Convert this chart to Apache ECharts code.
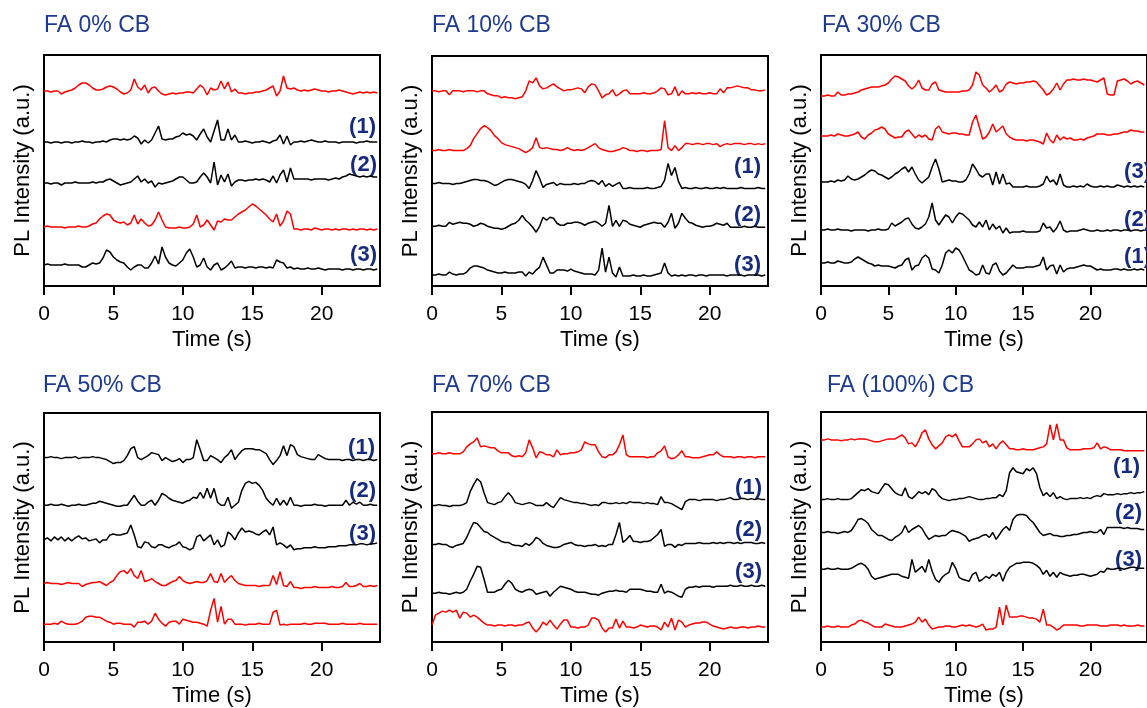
<!DOCTYPE html>
<html>
<head>
<meta charset="utf-8">
<title>PL intensity traces</title>
<script src="https://cdn.jsdelivr.net/npm/echarts@6/dist/echarts.min.js"></script>
<style>
html, body { margin: 0; padding: 0; background: #fff; }
#chart { width: 1147px; height: 708px; }
</style>
</head>
<body>
<div id="chart"></div>
<script>
var timeStep = 0.25;              // s between samples, first sample at t = 0
var xTickValues = [0, 5, 10, 15, 20];

// ---- FA 0% CB (values in a.u., relative to each trace's own baseline)
var fa0_red_a = [0,0,-1,0, 0,-3,-1,0, 1,3,6,8, 8,6,3,1, 1,2,4,5, 4,2,-1,-3, -2,1,12,4, 1,6,-2,3,
  4,0,-3,-4, -3,-2,-3,-2, -2,-1,-1,-2, 2,6,3,-4, 3,1,2,10, 2,9,-1,2, -2,-2,-3,-2, -2,-1,-1,0,
  1,3,5,-5, 0,15,3,2, 3,1,0,1, 0,1,2,1, 0,0,-1,0, 0,1,0,-1, -2,-3,-2,-1, -2,-1,-2,-1, -2];
var fa0_k1 = [0,0,-1,0, 0,-1,0,0, -1,0,0,1, 0,0,-1,0, 0,1,0,2, 3,3,2,3, 2,3,6,4, -2,2,-1,2,
  9,16,3,2, 3,3,5,6, 9,7,8,6, 2,8,13,5, 0,11,22,2, 2,13,2,7, 0,0,1,0, -1,0,0,1,
  0,-1,1,2, 7,-2,6,-3, 0,0,1,0, 1,2,1,0, 0,1,0,0, 0,-1,0,0, 0,0,-1,0, 0,1,0,0, 0];
var fa0_k2 = [0,0,-1,0, 0,-2,0,0, 0,1,0,0, 0,0,1,0, 1,1,3,4, 2,0,-2,-1, 0,1,4,7, 1,4,0,2,
  -4,0,-1,0, 1,2,4,6, 6,3,0,0, 1,6,10,6, 0,21,-2,8, 1,9,-3,1, 3,3,2,3, 3,4,3,4,
  3,1,7,0, 8,13,1,15, 4,4,4,4, 4,3,4,4, 4,4,3,4, 5,4,6,7, 9,8,7,6, 7,6,7,6, 6];
var fa0_red_b = [0,1,0,0, 0,0,-1,0, 0,0,1,0, 0,1,3,4, 8,11,13,12, 7,5,4,5, 2,4,12,3, 8,4,1,2,
  7,15,7,0, -1,-1,-1,0, -1,-1,0,3, 12,0,2,7, 2,-3,6,5, 8,7,7,10, 13,15,17,20, 23,21,18,15,
  12,8,5,13, 1,6,16,13, -2,-2,-3,-2, -2,-3,-1,-2, -3,-2,-2,-3, -2,-3,-2,-2, -3,-2,-3,-2, -2,-3,-2,-3, -2];
var fa0_k3 = [0,1,0,0, 0,0,1,0, 0,0,0,-2, -2,0,2,1, 2,7,15,13, 8,5,3,2, -2,-5,-2,0, 0,-3,-3,2,
  9,1,18,8, 2,0,-1,2, 5,12,16,8, -2,0,7,-2, -5,0,2,-5, -3,0,4,-3, -2,-2,-3,-2, -2,-3,-2,-2,
  -3,-2,-3,5, 3,2,-3,-2, -4,-3,-4,-4, -3,-4,-4,-3, -4,-5,-4,-4, -4,-4,-5,-4, -4,-5,-4,-4, -5,-4,-4,-5, -4];
var fa0_offsets = [195, 144, 103, 59, 21];

// ---- FA 10% CB
var fa10_red_a = [0,0,-1,0, 0,-4,0,0, 0,-1,0,0, 0,-1,0,0, -3,-4,-5,-5, -7,-6,-7,-7, -8,-7,-6,0, 10,8,13,5,
  2,3,5,7, 4,2,0,1, 1,2,3,2, -2,4,7,6, 0,-7,-4,-3, 1,-5,-3,0, 1,-3,-3,-3, -3,-2,-3,-3,
  -2,0,3,2, -4,-3,4,-5, 0,-3,-3,-2, -3,-2,-3,-3, -2,-3,-3,2, -2,3,3,4, 5,4,3,3, 1,1,0,0, 1];
var fa10_red_b = [0,0,1,0, 0,1,0,0, 0,0,2,5, 12,17,22,25, 23,20,15,12, 8,6,5,4, 3,2,0,-2, 0,3,13,3,
  2,3,2,1, 1,0,1,3, 1,0,1,0, 1,3,5,7, 3,1,0,-1, -1,0,1,3, 2,0,0,-1, 0,0,-1,0,
  0,0,1,30, 3,0,5,0, 3,7,7,6, 7,7,6,7, 7,6,7,4, 6,7,6,7, 7,7,6,7, 7,6,7,6, 7];
var fa10_k1 = [0,0,1,0, 0,0,-1,0, 0,1,2,3, 4,4,3,3, 2,0,-2,-1, 1,3,4,4, 3,2,1,-1, -5,3,13,5,
  -4,-1,0,1, -2,0,-1,-1, -1,0,-1,0, 0,2,3,2, -1,3,-3,0, -3,-1,1,-5, -5,-4,-5,-5, -5,-5,-4,-5,
  -5,-4,-3,3, 20,8,16,2, -5,-4,-5,-5, -4,-5,-5,-4, -5,-5,-4,-5, -4,-5,-5,-5, -5,-4,-5,-5, -5,-5,-4,-5, -5];
var fa10_k2 = [0,0,1,0, 0,4,2,3, 4,3,3,2, 0,1,3,2, 0,-1,-2,-2, -3,-2,0,2, 3,6,11,6, 3,-1,-6,0,
  9,6,9,8, 3,1,1,3, 3,4,4,3, 1,3,4,5, 3,0,3,21, 0,6,0,6, 5,2,1,0, -1,1,2,3,
  4,3,3,-1, 4,13,-2,3, 13,8,4,3, 1,0,-1,0, 0,1,3,2, 1,3,-1,-1, -1,-1,0,-1, -1,0,-1,-1, -1];
var fa10_k3 = [0,0,1,0, 0,3,1,0, 1,1,3,7, 9,9,8,7, 5,4,3,2, 2,3,2,2, 2,3,3,-1, 3,1,5,8,
  18,10,2,2, 5,5,5,4, 6,4,3,2, 1,1,1,0, 5,27,3,18, 2,-2,8,-1, -1,-1,0,-1, -1,0,-1,-1,
  0,1,2,12, 2,-1,0,-1, 0,-1,0,0, -1,0,0,-1, 0,0,0,0, 0,-1,0,0, 0,0,-1,0, 0,0,0,-1, 0];
var fa10_offsets = [196, 136, 103, 60, 11];

// ---- FA 30% CB
var fa30_red_a = [0,0,1,0, 0,4,1,1, 2,2,3,4, 6,7,8,9, 9,9,10,11, 13,17,20,19, 17,15,10,7, 10,16,8,6,
  6,12,14,6, 5,4,4,4, 4,4,5,5, 6,11,24,21, 11,8,4,7, 11,4,6,12, 14,13,12,13, 13,14,14,15,
  14,10,6,1, 3,7,13,6, 12,16,16,17, 16,16,17,16, 16,15,14,16, 18,2,1,1, 15,16,17,15, 12,14,15,13, 11];
var fa30_red_b = [0,0,0,1, 0,2,1,0, 0,1,2,4, -1,-3,1,3, 6,7,9,7, 2,0,-2,-1, -1,4,6,2, -2,1,-1,1,
  -3,-4,7,10, 4,3,2,3, 3,2,2,1, 1,14,21,9, -3,-1,4,12, 4,7,10,2, -1,-3,-4,-4, -4,-5,-4,-4,
  -5,-6,-8,3, -4,-7,1,-4, -1,-3,-2,-4, -4,-3,-4,-2, -1,0,2,2, 2,1,1,2, 2,3,4,4, 6,5,5,4, 4];
var fa30_k3 = [0,0,0,1, 0,2,1,2, 6,3,2,3, 5,7,10,12, 11,8,7,5, 3,5,8,10, 13,15,10,15, 8,2,-1,2,
  5,15,23,13, 0,1,2,1, 1,0,0,2, 8,18,13,7, 5,8,8,-3, 10,-2,8,-2, -1,-5,-5,-5, -5,-4,-5,-5,
  -5,-4,-2,6, 0,2,-3,8, -3,-5,-5,-4, -5,-4,-5,-2, -4,-5,-5,-4, -5,-4,-5,-5, -3,-4,-5,-4, -5,-4,-5,-4, -5];
var fa30_k2 = [0,0,1,0, 0,1,0,0, 0,-1,0,0, 0,0,-1,0, 0,1,0,0, 1,7,4,6, 8,11,12,6, 2,1,3,6,
  13,27,10,5, 10,15,13,7, 13,17,16,13, 10,5,3,8, 3,10,0,6, 1,4,-3,2, -3,-2,-2,-2, -1,-2,-2,-2,
  -2,-1,7,2, 3,-2,2,9, 0,-2,-1,-1, -1,0,1,0, -1,-1,0,-1, -1,0,-1,0, 0,-1,0,0, -1,0,0,-1, 0];
var fa30_k1 = [0,0,1,0, 0,2,1,0, 0,1,4,6, 4,2,0,-1, -3,-2,-3,-3, -3,-4,-5,-3, -2,3,5,-7, -3,-2,5,8,
  5,-6,-7,-10, -2,10,13,10, 15,13,7,0, -7,-9,-12,-11, -2,-10,-11,-2, 0,-8,-12,-10, -6,-2,-5,-5, -5,-4,-4,-4,
  -3,-2,6,-7, -3,-2,-11,-2, -9,-6,-5,-5, -4,-3,-2,-3, -3,-5,-7,-6, -7,-7,-7,-6, -6,-7,-6,-7, -7,-6,-7,-6, -7];
var fa30_offsets = [190, 150, 104, 56, 23];

// ---- FA 50% CB
var fa50_k1 = [0,0,1,0, 0,-1,0,0, 0,1,-1,0, 0,0,1,0, 0,-1,-2,-4, -6,-5,-5,-3, 2,9,11,0, -2,0,2,5,
  4,3,-3,0, -2,-4,-3,-1, -5,-2,-2,0, 18,8,-3,-3, 2,0,-2,-5, 0,3,8,-2, 3,7,9,9, 9,8,8,6,
  4,-2,-7,-3, 2,12,2,13, 11,3,1,0, -1,-2,-2,3, 1,-1,-2,-2, -2,-2,-3,-2, -2,-3,-2,-2, -3,-2,-2,-3, -2];
var fa50_k2 = [0,0,1,0, 0,1,0,-1, 0,0,1,0, 0,1,2,2, 4,3,2,1, 0,-1,-1,0, 0,5,10,4, 0,0,3,5,
  0,5,12,10, 7,5,4,3, 2,4,5,8, 7,13,7,17, 7,17,3,0, 0,8,-3,0, 3,15,22,24, 22,23,20,15,
  7,3,0,7, 0,5,0,8, 0,0,-1,0, 0,0,1,0, 0,-1,0,0, 0,0,0,5, 0,3,1,3, 0,0,1,0, 0];
var fa50_k3 = [0,2,-1,3, 0,3,-1,2, -1,2,4,1, 2,-1,0,1, -3,0,0,5, 6,5,5,6, 7,15,5,-7, -8,-2,-3,-7,
  -8,-5,-5,-7, -8,-6,-5,-2, -7,-8,-10,-8, 3,5,-1,2, 5,-5,0,-7, -5,8,5,0, 7,12,8,9, 8,6,5,8,
  10,5,13,-5, -3,-5,-8,-5, -10,-9,-9,-8, -8,-8,-7,-8, -8,-8,-7,-7, -7,-6,-6,-6, -5,-5,-5,-4, -4,-5,-4,-4, -3];
var fa50_red_a = [0,1,0,0, 0,-1,0,1, 0,0,0,-3, -1,0,1,1, 2,0,-2,1, 3,8,12,13, 10,15,8,5, 13,2,3,5,
  2,0,-2,-2, 0,2,3,7, 3,1,0,1, 2,1,1,3, 10,2,1,10, 1,5,8,3, 0,-1,-2,-2, -2,-2,-3,-2,
  -2,-2,8,-1, 12,-2,-3,2, -4,-4,-5,-4, -4,-4,-3,-4, -4,-4,-4,-3, -4,-4,-3,1, -3,-3,-2,0, -3,-3,-2,-3, -2];
var fa50_red_b = [0,0,0,1, 0,3,1,0, 0,0,1,3, 7,8,8,7, 7,5,3,2, 0,1,1,0, 0,0,-3,2, 2,3,0,3,
  11,5,1,-2, 2,3,3,0, 5,4,3,2, 2,1,0,-2, 14,26,2,18, 0,5,5,0, 0,0,-1,0, 0,0,1,0,
  0,0,12,14, -1,0,-1,0, 0,0,0,1, 0,0,1,1, 1,1,0,0, 0,0,1,0, 0,0,0,1, 0,0,0,0, 0];
var fa50_offsets = [186, 138, 103, 59, 18];

// ---- FA 70% CB
var fa70_red_a = [0,0,1,0, 0,1,0,0, 0,2,7,10, 12,16,7,8, 7,6,6,3, 1,1,1,-2, -3,-2,-3,1, 14,6,-4,2,
  1,-1,-1,-3, 4,-1,0,0, 1,1,2,4, 12,10,9,9, 2,-3,-4,-1, -1,2,9,19, -1,-3,-3,-3, -3,-3,-4,-3,
  -3,1,3,8, -3,-5,-4,-1, 3,-3,-3,-4, -4,-4,-3,-2, -1,-1,2,-1, -3,-3,-3,-4, -3,-3,-4,-3, -3,-4,-3,-3, -3];
var fa70_k1 = [0,0,1,0, 0,-1,0,0, 0,1,3,14, 21,27,24,13, 3,2,1,3, 4,9,13,9, 3,2,1,2, 3,2,0,0,
  0,3,0,-2, 3,8,6,5, 4,3,3,2, 2,1,0,1, 0,3,3,2, 2,3,2,3, 2,4,3,3, 3,2,3,2,
  2,1,9,3, 3,2,0,-2, -4,4,6,6, 6,5,6,6, 6,6,5,6, 6,7,8,6, 6,7,7,6, 7,6,7,6, 6];
var fa70_k2 = [0,0,1,0, 0,-2,-3,-1, 0,1,7,15, 22,21,17,13, 12,9,7,5, 3,2,2,0, -1,-1,-2,1, -1,2,7,5,
  1,-1,-2,-3, -3,-2,0,1, 2,0,-1,-1, -2,-1,-1,0, -2,-1,-2,0, 0,10,22,2, 5,9,3,3, 2,3,3,4,
  7,10,15,-2, 0,0,-3,0, -1,1,1,1, 1,2,1,1, 1,2,1,2, 1,2,2,1, 2,1,2,2, 2,1,1,2, 1];
var fa70_k3 = [0,0,1,0, 0,-1,0,1, 0,1,4,12, 19,27,26,14, 1,1,1,3, 4,9,13,10, 4,2,1,3, 4,3,-1,0,
  1,2,-3,1, 4,7,6,5, 4,2,1,1, 1,0,-1,-1, -2,0,1,2, 2,3,2,2, 1,4,4,4, 4,3,2,2,
  1,1,9,0, 2,1,-1,-3, -4,4,6,6, 7,6,7,7, 7,6,7,7, 7,7,8,7, 7,8,7,7, 8,7,7,8, 7];
var fa70_red_b = [2,12,14,16, 15,17,15,17, 9,15,14,10, 12,10,7,4, 2,2,1,2, 2,1,2,2, 1,2,2,4, 5,-1,-5,-1,
  5,2,7,2, -2,3,7,7, 0,0,-1,0, 0,2,9,9, 7,-1,-5,-1, -1,8,-1,6, 0,0,-1,0, 2,1,0,1,
  1,0,-3,5, 0,9,-3,7, 5,0,2,3, 4,4,5,5, 3,1,0,-1, -2,-1,0,-1, -1,0,0,-1, 0,0,1,0, 0];
var fa70_offsets = [189, 137, 98, 49, 15];

// ---- FA (100%) CB
var fa100_red_a = [0,0,1,0, 0,0,-1,0, 0,1,0,1, 1,1,0,-1, -2,-2,-1,0, 1,1,1,3, 5,2,-4,-3, -7,-1,7,10,
  1,-5,-9,-6, -3,3,5,3, 6,-1,-7,-7, -7,-4,0,1, -3,-1,-7,-4, -9,-4,-1,-5, -9,-9,-10,-10, -9,-10,-10,-10,
  -9,-8,-7,-4, 15,0,16,0, 0,-8,-10,-10, -10,-10,-9,-9, -9,-8,-3,-9, -7,-8,-10,-10, -10,-10,-11,-11, -11,-11,-11,-11, -11];
var fa100_k1 = [0,0,1,0, 0,1,0,0, 0,1,4,7, 10,9,11,8, 7,6,11,16, 15,11,7,5, 4,12,3,1, 4,8,6,8,
  5,11,9,4, 1,0,-1,0, 0,1,1,2, 3,2,1,0, 0,1,1,2, 2,5,3,9, 27,32,28,27, 26,31,29,32,
  26,12,4,7, 3,7,1,3, 1,0,1,1, 1,2,1,2, 1,3,4,3, 6,5,5,5, 6,5,6,6, 7,6,7,7, 8];
var fa100_k2 = [0,0,1,0, 0,-1,0,1, 0,2,7,13, 14,12,9,3, 0,-3,-3,-5, -7,-8,-5,-3, 0,7,0,3, 5,7,4,-2,
  -7,-5,-3,-4, -3,-3,0,2, 1,0,-2,-4, -9,-7,-6,-5, -3,-2,-5,0, -7,-2,3,6, 2,13,17,18, 18,17,13,10,
  5,0,-3,-2, -1,-3,-3,-4, -4,-3,-3,-2, -2,-1,0,0, 1,0,0,3, -2,5,5,5, 5,5,4,5, 4,4,4,3, 3];
var fa100_k3 = [0,0,1,0, 0,1,0,0, 0,1,3,5, 6,4,0,-7, -10,-9,-8,-7, -6,-5,-5,-5, -7,-8,-9,10, -3,0,3,-3,
  10,-2,-10,-13, -8,-5,-3,7, 1,-8,-10,-11, -12,-5,-3,-12, -10,-7,-9,-5, -7,-3,-12,-3, 2,4,6,6, 7,7,7,6,
  4,1,-5,-1, -7,-3,-8,-3, -5,-6,-7,-6, -6,-5,-5,-6, -7,-6,-5,-2, -3,1,0,0, 1,1,0,1, 2,2,1,1, 1];
var fa100_red_b = [0,0,1,0, 0,1,0,0, 0,2,3,6, 7,5,4,2, 0,0,0,3, 2,1,0,0, 0,1,2,3, 5,10,5,8,
  2,-2,-1,0, 0,1,1,0, 0,1,2,1, 2,1,0,1, 3,-3,-2,-2, 0,20,2,22, 10,10,10,11, 11,10,9,9,
  8,5,18,2, 2,0,-3,-1, 2,2,2,2, 2,1,1,2, 2,2,2,1, 1,1,2,2, 2,1,2,1, 1,1,2,1, 1];
var fa100_offsets = [203, 143, 110, 73, 15];

var panels = [
  { title: 'FA 0% CB', traces: [fa0_red_a, fa0_k1, fa0_k2, fa0_red_b, fa0_k3], offsets: fa0_offsets, kind: 'rkkrk' },
  { title: 'FA 10% CB', traces: [fa10_red_a, fa10_red_b, fa10_k1, fa10_k2, fa10_k3], offsets: fa10_offsets, kind: 'rrkkk' },
  { title: 'FA 30% CB', traces: [fa30_red_a, fa30_red_b, fa30_k3, fa30_k2, fa30_k1], offsets: fa30_offsets, kind: 'rrkkk' },
  { title: 'FA 50% CB', traces: [fa50_k1, fa50_k2, fa50_k3, fa50_red_a, fa50_red_b], offsets: fa50_offsets, kind: 'kkkrr' },
  { title: 'FA 70% CB', traces: [fa70_red_a, fa70_k1, fa70_k2, fa70_k3, fa70_red_b], offsets: fa70_offsets, kind: 'rkkkr' },
  { title: 'FA (100%) CB', traces: [fa100_red_a, fa100_k1, fa100_k2, fa100_k3, fa100_red_b], offsets: fa100_offsets, kind: 'rkkkr' }
];

// layout (pixels)
var grids = [
  { left: 44, top: 55, width: 336, height: 231 },
  { left: 432, top: 56, width: 336, height: 230 },
  { left: 821, top: 55, width: 336, height: 231 },
  { left: 44, top: 413, width: 336, height: 231 },
  { left: 432, top: 412, width: 336, height: 231 },
  { left: 821, top: 412, width: 336, height: 231 }
];
var titlePos = [[44, 26], [432, 26], [822, 26], [43, 386], [432, 386], [827, 386]];
var tagPos = [
  [['(1)', 376, 127], ['(2)', 377, 165], ['(3)', 377, 255]],
  [['(1)', 761, 167], ['(2)', 761, 215], ['(3)', 761, 265]],
  [['(3)', 1151, 172], ['(2)', 1151, 220], ['(1)', 1151, 257]],
  [['(1)', 375, 448], ['(2)', 376, 491], ['(3)', 376, 534]],
  [['(1)', 762, 488], ['(2)', 762, 530], ['(3)', 762, 572]],
  [['(1)', 1140, 467], ['(2)', 1142, 513], ['(3)', 1142, 560]]
];

var fontFamily = '"Liberation Sans", Arial, sans-serif';
var chart = echarts.init(document.getElementById('chart'));

var grid = [], xAxis = [], yAxis = [], series = [], graphic = [];
panels.forEach(function (p, i) {
  grid.push({
    left: grids[i].left, top: grids[i].top, width: grids[i].width, height: grids[i].height,
    show: true, borderColor: '#000', borderWidth: 2, backgroundColor: 'transparent'
  });
  xAxis.push({
    gridIndex: i, type: 'value', min: 0, max: 24.2, interval: 5,
    axisLine: { show: false },
    axisTick: { show: true, inside: false, length: 9, customValues: xTickValues, lineStyle: { color: '#000', width: 2 } },
    axisLabel: { customValues: xTickValues, fontSize: 21, color: '#000', margin: 18, fontFamily: fontFamily },
    splitLine: { show: false },
    name: 'Time (s)', nameLocation: 'middle', nameGap: 43,
    nameTextStyle: { fontSize: 22, color: '#000', fontFamily: fontFamily }
  });
  yAxis.push({
    gridIndex: i, type: 'value', min: 0, max: 231,
    axisLine: { show: false }, axisTick: { show: false }, axisLabel: { show: false }, splitLine: { show: false },
    name: 'PL Intensity (a.u.)', nameLocation: 'middle', nameGap: 10,
    nameTextStyle: { fontSize: 22, color: '#000', fontFamily: fontFamily }
  });
  p.traces.forEach(function (vals, j) {
    series.push({
      type: 'line', xAxisIndex: i, yAxisIndex: i, symbol: 'none', silent: true,
      data: vals.map(function (v, k) { return [k * timeStep, v + p.offsets[j]]; }),
      lineStyle: { width: 1.5, color: p.kind[j] == 'r' ? '#ff0000' : '#000000' }
    });
  });
  graphic.push({
    type: 'text', x: titlePos[i][0], y: titlePos[i][1],
    style: { text: p.title, fontSize: 23, fontFamily: fontFamily, fill: '#1d3a8f', verticalAlign: 'middle', align: 'left' }
  });
  tagPos[i].forEach(function (t) {
    graphic.push({
      type: 'text', x: t[1], y: t[2],
      style: { text: t[0], fontSize: 22, fontWeight: 'bold', fontFamily: fontFamily, fill: '#172b7e', verticalAlign: 'middle', align: 'right' }
    });
  });
});

chart.setOption({
  animation: false,
  backgroundColor: '#fff',
  grid: grid,
  xAxis: xAxis,
  yAxis: yAxis,
  series: series,
  graphic: graphic
});
</script>
</body>
</html>
